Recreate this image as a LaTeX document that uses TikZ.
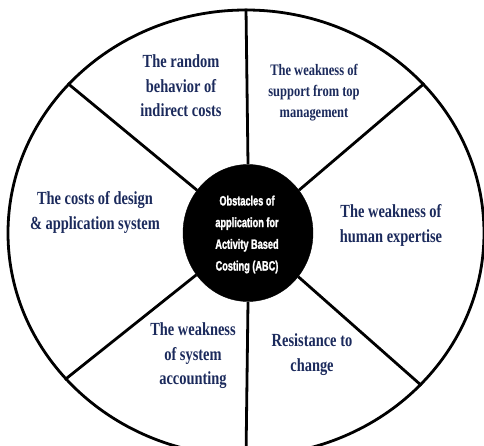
\documentclass[tikz,border=0pt]{standalone}
\usepackage{fontspec}
\usetikzlibrary{shapes.geometric}
\newfontfamily\lblfont[FakeStretch=0.78]{Liberation Serif}
\newfontfamily\ctrfont[FakeStretch=0.68,FakeBold=1.6]{Liberation Sans Bold}
\definecolor{navy}{HTML}{1B2A5C}
\begin{document}
\begin{tikzpicture}[x=1pt,y=1pt,
  spoke/.style={line width=2.8pt,black},
  lbl/.style={align=center,text=navy,font=\lblfont\bfseries\fontsize{18.5}{24.5}\selectfont,inner sep=0pt},
  lblsmall/.style={align=center,text=navy,font=\lblfont\bfseries\fontsize{16}{21}\selectfont,inner sep=0pt},
  hub/.style={ellipse,fill=black,draw=black,minimum width=130pt,minimum height=137pt,inner sep=0pt},
  rim/.style={ellipse,draw=black,line width=2.8pt,minimum width=476pt,minimum height=446pt,inner sep=0pt}]
\useasboundingbox (0,0) rectangle (484,445);
\clip (0,0) rectangle (484,445);
\node[rim] (outer) at (246,212) {};
\node[hub] (c) at (248,212) {};
\draw[spoke] (c.90) -- (outer.90);
\draw[spoke] (c.40.4) -- (outer.40.4);
\draw[spoke] (c.140.8) -- (outer.140.8);
\draw[spoke] (c.219.5) -- (outer.219.5);
\draw[spoke] (c.319.5) -- (outer.319.5);
\draw[spoke] (c.270) -- (outer.270);
\node[hub,draw=none,fill=none,text=white,align=center,font=\ctrfont\fontsize{13.5}{21.7}\selectfont] (ct) at (247,210.5) {Obstacles of\\application for\\Activity Based\\Costing (ABC)};
\node[lbl] (t1) at (181,359) {The random\\behavior of\\indirect costs};
\node[lblsmall] (t2) at (314,352) {The weakness of\\support from top\\management};
\node[lbl] (t3) at (95,232.5) {The costs of design\\\& application system};
\node[lbl] (t4) at (391,219.5) {The weakness of\\human expertise};
\node[lbl] (t5) at (312,90.5) {Resistance to\\change};
\node[lbl] (t6) at (193,89) {The weakness\\of system\\accounting};
\end{tikzpicture}
\end{document}
